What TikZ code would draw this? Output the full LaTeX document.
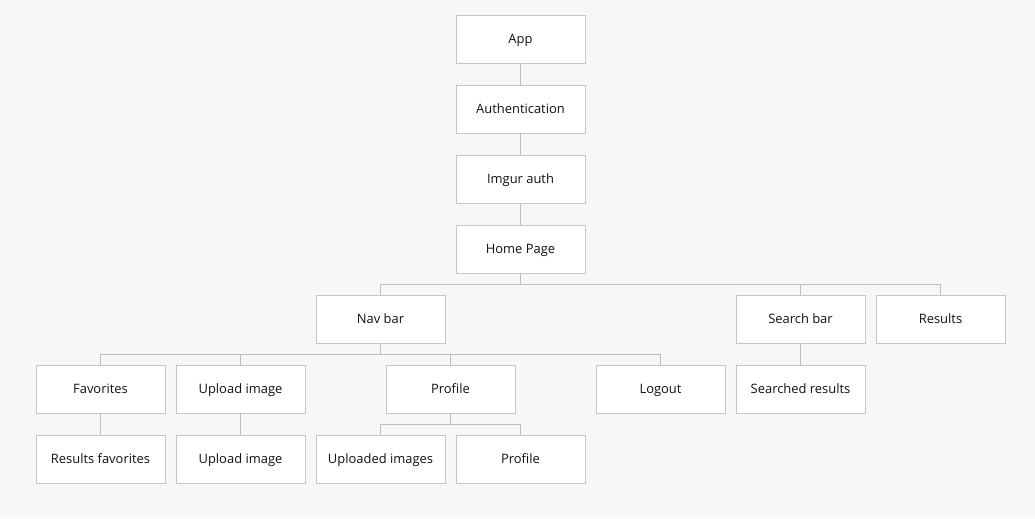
\documentclass[tikz,border=0pt]{standalone}
\usepackage{fontspec}
\setmainfont{Open Sans}
\usepackage{xcolor}
\usepackage{tikz}
\usetikzlibrary{calc}
\usetikzlibrary{shadows}
\definecolor{bg}{HTML}{F6F7F9}
\definecolor{edge}{HTML}{C6C6C6}
\definecolor{wire}{HTML}{BEBEBE}
\definecolor{ink}{HTML}{111111}
\tikzset{
  box/.style = {rectangle, draw = edge, fill = white, line width = .6pt,
    minimum width = 96.75pt, minimum height = 36pt, inner sep = 1,
    text height = 7.5pt, text depth = .6pt,
    text = ink, font = \fontsize{9.7}{11}\selectfont,
    drop shadow = {opacity = .08, shadow xshift = 0pt, shadow yshift = -1pt}},
  wire/.style = {-, draw = wire, line width = .6pt}
}

\begin{document}
\begin{tikzpicture}[x = .75pt, y = -.75pt]
\fill [bg] (0, 0) rectangle (1035, 518);
\useasboundingbox (0, 0) rectangle (1035, 518);
\node [box] (A) at (520.5, 39) {App};
\node [box] (U) at (520.5, 109) {Authentication};
\node [box] (I) at (520.5, 179) {Imgur auth};
\node [box] (H) at (520.5, 249) {Home Page};
\node [box] (N) at (380.5, 319) {Nav bar};
\node [box] (S) at (800.5, 319) {Search bar};
\node [box] (R) at (940.5, 319) {Results};
\node [box] (F) at (100.5, 389) {Favorites};
\node [box] (UI) at (240.5, 389) {Upload image};
\node [box] (P) at (450.5, 389) {Profile};
\node [box] (L) at (660.5, 389) {Logout};
\node [box] (SR) at (800.5, 389) {Searched results};
\node [box] (RF) at (100.5, 459) {Results favorites};
\node [box] (UI2) at (240.5, 459) {Upload image};
\node [box] (UP) at (380.5, 459) {Uploaded images};
\node [box] (P2) at (520.5, 459) {Profile};
% straight links
\draw [wire] (A) -- (U);
\draw [wire] (U) -- (I);
\draw [wire] (I) -- (H);
\draw [wire] (F) -- (RF);
\draw [wire] (UI) -- (UI2);
\draw [wire] (S) -- (SR);
% home page bus
\draw [wire] (H.south) -- ++(0, 11) -| (N.north);
\draw [wire] (H.south) -- ++(0, 11) -| (S.north);
\draw [wire] (H.south) -- ++(0, 11) -| (R.north);
% nav bar bus
\draw [wire] (N.south) -- ++(0, 11) -| (F.north);
\draw [wire] (N.south) -- ++(0, 11) -| (UI.north);
\draw [wire] (N.south) -- ++(0, 11) -| (P.north);
\draw [wire] (N.south) -- ++(0, 11) -| (L.north);
% profile bus
\draw [wire] (P.south) -- ++(0, 11) -| (UP.north);
\draw [wire] (P.south) -- ++(0, 11) -| (P2.north);
\end{tikzpicture}
\end{document}
